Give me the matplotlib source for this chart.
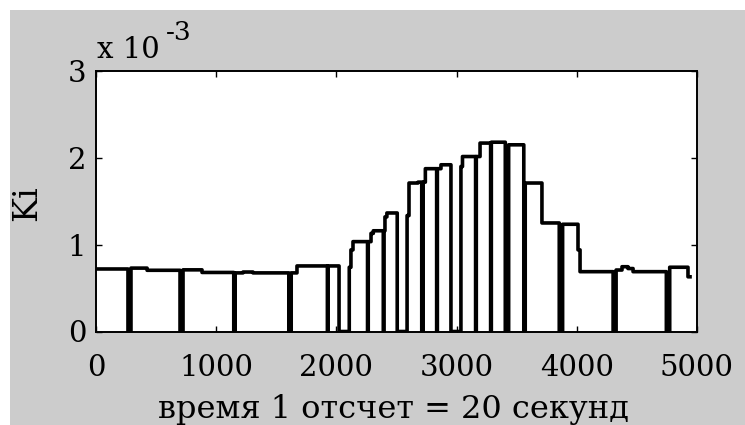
import numpy as np
import matplotlib
matplotlib.use("Agg")
import matplotlib.pyplot as plt
from matplotlib.patches import Rectangle

# ---- data ----
# start of each constant level (sample index) and its value (x 1e-3)
level_start = [0, 291, 425, 724, 882, 1158, 1223, 1306, 1624, 1672,
               2107, 2121, 2138, 2288, 2307, 2404, 2420, 2588, 2604, 2679,
               2722, 2740, 2870, 3036, 3049, 3164, 3195, 3289, 3433, 3571,
               3710, 3882, 4010, 4027, 4327, 4376, 4426, 4468, 4773, 4925]
level_value = [0.72, 0.73, 0.705, 0.71, 0.68, 0.675, 0.685, 0.675, 0.675, 0.755,
               0.74, 0.94, 1.035, 1.13, 1.16, 1.32, 1.365, 1.335, 1.71, 1.72,
               1.72, 1.875, 1.92, 1.90, 2.015, 2.015, 2.17, 2.18, 2.15, 1.71,
               1.25, 1.235, 0.94, 0.689, 0.708, 0.746, 0.725, 0.689, 0.74, 0.63]
# intervals where the signal drops to zero
gap_start = [266, 699, 1146, 1604, 1925, 2022, 2259, 2390, 2506, 2710,
             2834, 2953, 3158, 3283, 3405, 3559, 3854, 4302, 4745]
gap_end = [291, 724, 1158, 1624, 1930, 2107, 2265, 2396, 2588, 2722,
           2840, 3036, 3164, 3289, 3433, 3571, 3882, 4327, 4773]
last_sample = 4942

x_ticks = [0, 1000, 2000, 3000, 4000, 5000]
y_ticks = [0, 1, 2, 3]
x_label = "время 1 отсчет = 20 секунд"
y_label = "Ki"

# ---- build the series from the read values ----
t = np.arange(0, last_sample + 1)
idx = np.searchsorted(level_start, t, side="right") - 1
ki = np.array(level_value)[idx] * 1e-3
for s, e in zip(gap_start, gap_end):
    ki[(t >= s) & (t < e)] = 0.0

# ---- figure ----
plt.rcParams['font.family'] = ['DejaVu Serif']
W, H = 745, 425
fig = plt.figure(figsize=(W / 100, H / 100), dpi=100, facecolor="white")
fig.patches.append(Rectangle((10 / W, 0), 1 - 10 / W, 1 - 10 / H,
                             transform=fig.transFigure, facecolor="#cccccc",
                             edgecolor="none", zorder=-10))

ax = fig.add_axes([96 / W, 1 - 331.5 / H, (697 - 96) / W, (331.5 - 71) / H])
ax.set_facecolor("white")
ax.plot(t, ki, drawstyle="steps-post", color="black", lw=2.6)

ax.set_xlim(0, 5000)
ax.set_ylim(0, 3e-3)
ax.set_xticks(x_ticks)
ax.set_xticklabels([str(v) for v in x_ticks])
ax.set_yticks([v * 1e-3 for v in y_ticks])
ax.set_yticklabels([str(v) for v in y_ticks])
ax.tick_params(direction="in", length=4, width=1.0, top=True, right=True,
               labelsize=21, colors="black")
ax.tick_params(axis="x", pad=16.5)
ax.tick_params(axis="y", pad=7)
for sp in ax.spines.values():
    sp.set_linewidth(1.4)
    sp.set_color("black")

fig.text(394 / W, 1 - 418 / H, x_label, ha="center", va="baseline", fontsize=23)
fig.text(27 / W, 1 - 203 / H, y_label, rotation=90, ha="center", va="center",
         fontsize=24)
fig.text(97 / W, 1 - 58 / H, "x 10", ha="left", va="baseline", fontsize=21)
fig.text(166 / W, 1 - 40 / H, "-3", ha="left", va="baseline", fontsize=19)

fig.savefig("out.png", dpi=100, facecolor=fig.get_facecolor())
